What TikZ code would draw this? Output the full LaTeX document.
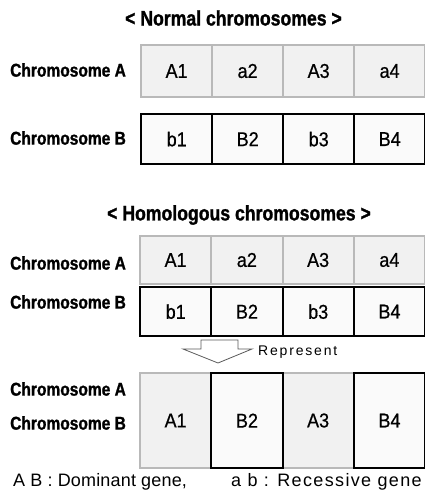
\documentclass[tikz,border=0pt]{standalone}
\usepackage{fontspec}
\setmainfont{Liberation Sans}
\newfontfamily\hd[FakeStretch=0.84,FakeBold=1.2]{Liberation Sans}
\newfontfamily\cf[FakeStretch=0.9,FakeBold=0.6]{Liberation Sans}
\tikzset{
  lbl/.style={anchor=west, inner sep=0pt, font=\hd\bfseries\fontsize{18.5}{18.5}\selectfont},
  ttl/.style={inner sep=0pt, font=\hd\bfseries\fontsize{21}{21}\selectfont},
  cellfont/.style={font=\cf\fontsize{20}{20}\selectfont},
  acell/.style={cellfont, draw=gray!55, line width=2pt, fill=gray!11, anchor=north west, inner sep=0pt,
     minimum width=71.25pt},
  bcell/.style={cellfont, draw=black, line width=2.2pt, fill=gray!4, anchor=north west, inner sep=0pt,
     minimum width=71.25pt},
  note/.style={anchor=west, inner sep=0pt},
}
\begin{document}
\begin{tikzpicture}[x=1pt,y=-1pt]
\useasboundingbox (0,0) rectangle (425,496);
% normal
\node[ttl] (t1) at (233.5,18) {< Normal chromosomes >};
\node[lbl] (la1) at (10,70) {Chromosome A};
\node[lbl] (lb1) at (10,138) {Chromosome B};
\foreach \t [count=\i from 0] in {A1,a2,A3,a4}
  \node[acell, minimum height=52pt] (n1a\i) at (140+71*\i,44) {\t};
\foreach \t [count=\i from 0] in {b1,B2,b3,B4}
  \node[bcell, minimum height=50pt] (n1b\i) at (140+71*\i,113) {\t};
% homologous
\node[ttl] (t2) at (239,215) {< Homologous chromosomes >};
\node[lbl] (la2) at (10,263) {Chromosome A};
\node[lbl] (lb2) at (10,302) {Chromosome B};
\foreach \t [count=\i from 0] in {A1,a2,A3,a4}
  \node[acell, minimum height=48pt] (n2a\i) at (139+71.25*\i,235) {\t};
\foreach \t [count=\i from 0] in {b1,B2,b3,B4}
  \node[bcell, minimum height=49pt] (n2b\i) at (139+71.25*\i,286) {\t};
% arrow
\draw[gray!70!black, line width=0.8pt, fill=white]
  (201,340) -- (238,340) -- (238,349) -- (252,349) -- (218,363) -- (183,349) -- (201,349) -- cycle;
\node[note, font=\addfontfeature{LetterSpace=13}\fontsize{14}{14}\selectfont] (rep) at (258,352) {Represent};
% represent
\node[lbl] (la3) at (10,389) {Chromosome A};
\node[lbl] (lb3) at (10,423) {Chromosome B};
\node[acell, minimum height=95pt] (r0) at (139,372) {A1};
\node[acell, minimum height=95pt] (r2) at (281.5,372) {A3};
\node[bcell, minimum height=95pt] (r1) at (210.25,372) {B2};
\node[bcell, minimum height=95pt] (r3) at (352.75,372) {B4};
% legend
\node[note, font=\addfontfeature{LetterSpace=1}\fontsize{18}{18}\selectfont] (leg1) at (13,482) {A B : Dominant gene,};
\node[note, font=\addfontfeature{LetterSpace=7.5}\fontsize{18}{18}\selectfont] (leg2) at (231,482) {a b : Recessive gene};
\end{tikzpicture}
\end{document}
